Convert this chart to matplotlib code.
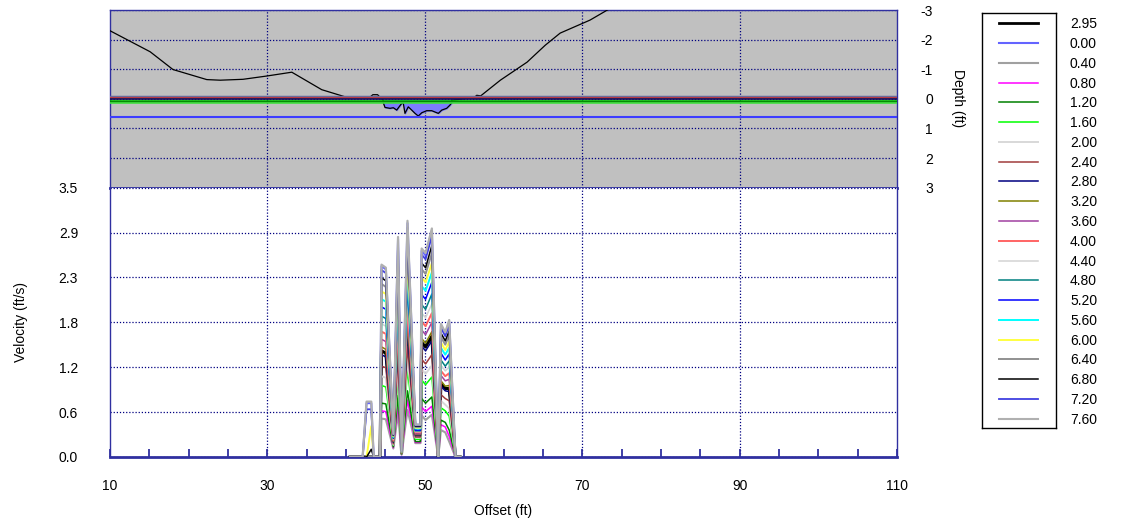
import matplotlib
matplotlib.use('Agg')
import matplotlib.pyplot as plt
import numpy as np

plt.rcParams['font.family'] = ['Liberation Sans', 'DejaVu Sans']
plt.rcParams['font.size'] = 10
plt.rcParams['axes.unicode_minus'] = False

# ---- cross-section (top panel) ----
bank_x = [10.0, 15.1, 18.0, 22.3, 24.0, 26.9, 29.9, 33.1, 36.9, 40.1, 43.0, 43.4, 44.0, 44.7]
bank_d = [-2.30, -1.59, -0.99, -0.65, -0.63, -0.66, -0.77, -0.90, -0.31, -0.05, -0.05, -0.14, -0.14, 0.05]
bank2_x = [53.4, 56.3, 56.6, 57.1, 59.6, 63.0, 65.3, 67.2, 71.0, 73.2, 75.0]
bank2_d = [0.05, -0.05, -0.12, -0.10, -0.63, -1.24, -1.81, -2.22, -2.66, -3.00, -3.30]
bed_x = [44.73, 44.94, 45.58, 46.0, 46.43, 47.07, 47.27, 47.48, 47.9, 48.34,
         48.76, 49.17, 49.61, 50.24, 50.88, 51.72, 52.15, 52.78, 53.2, 53.42]
bed_d = [0.13, 0.29, 0.32, 0.30, 0.38, 0.15, 0.15, 0.49, 0.27, 0.38,
         0.49, 0.58, 0.47, 0.40, 0.40, 0.49, 0.38, 0.32, 0.21, 0.13]
surf_d = [-0.07, -0.02, 0.02, 0.06, 0.10, 0.13]
surf_c = ['#6a6a9c', '#c83232', '#101060', '#00c000', '#008000', '#40e040']
surf_w = [2.5, 1.2, 1.2, 1.2, 1.2, 1.2]
blue_line_d = 0.6

# ---- velocity profiles (bottom panel) ----
offset = [40.5, 42.1, 42.6, 43.2, 43.5, 44.3, 44.5, 45.05, 46.0, 46.6, 47.05, 47.8,
          48.8, 49.45, 49.6, 50.1, 50.9, 51.7, 52.05, 52.6, 53.1, 53.9, 54.5]
v_295 = [0, 0, 0, 0, 0, 0, 1.38, 1.35, 0.19, 1.57, 0.05, 1.69, 0.29, 0.29, 1.49, 1.43, 1.57, 0, 0.95, 0.89, 0.89, 0, 0]
v_000 = [0, 0, 0.70, 0.70, 0, 0, 2.48, 2.44, 0.30, 2.83, 0.08, 3.04, 0.42, 0.42, 2.68, 2.62, 2.94, 0, 1.71, 1.60, 1.76, 0, 0]
v_040 = [0, 0, 0, 0, 0, 0, 0.50, 0.49, 0.11, 0.57, 0.03, 0.61, 0.18, 0.18, 0.54, 0.48, 0.55, 0, 0.35, 0.32, 0.20, 0, 0]
v_080 = [0, 0, 0, 0, 0, 0, 0.60, 0.59, 0.12, 0.69, 0.03, 0.74, 0.19, 0.19, 0.65, 0.59, 0.66, 0, 0.42, 0.39, 0.27, 0, 0]
v_120 = [0, 0, 0, 0, 0, 0, 0.70, 0.69, 0.13, 0.80, 0.04, 0.86, 0.20, 0.20, 0.76, 0.70, 0.78, 0, 0.48, 0.45, 0.35, 0, 0]
v_160 = [0, 0, 0, 0, 0, 0, 0.93, 0.91, 0.15, 1.06, 0.04, 1.14, 0.23, 0.23, 1.00, 0.94, 1.04, 0, 0.64, 0.60, 0.53, 0, 0]
v_200 = [0, 0, 0, 0, 0, 0, 1.05, 1.03, 0.16, 1.20, 0.05, 1.29, 0.25, 0.25, 1.14, 1.08, 1.19, 0, 0.73, 0.68, 0.63, 0, 0]
v_240 = [0, 0, 0, 0, 0, 0, 1.18, 1.16, 0.17, 1.34, 0.05, 1.44, 0.26, 0.26, 1.27, 1.21, 1.33, 0, 0.81, 0.76, 0.73, 0, 0]
v_280 = [0, 0, 0, 0, 0, 0, 1.33, 1.30, 0.19, 1.52, 0.05, 1.63, 0.28, 0.28, 1.44, 1.38, 1.51, 0, 0.92, 0.86, 0.85, 0, 0]
v_320 = [0, 0, 0, 0, 0, 0, 1.43, 1.40, 0.20, 1.63, 0.05, 1.75, 0.29, 0.29, 1.54, 1.48, 1.63, 0, 0.99, 0.92, 0.93, 0, 0]
v_360 = [0, 0, 0, 0, 0, 0, 1.53, 1.50, 0.21, 1.74, 0.06, 1.87, 0.30, 0.30, 1.65, 1.59, 1.75, 0, 1.06, 0.99, 1.01, 0, 0]
v_400 = [0, 0, 0, 0, 0, 0, 1.63, 1.60, 0.22, 1.86, 0.06, 2.00, 0.32, 0.32, 1.76, 1.70, 1.87, 0, 1.12, 1.05, 1.09, 0, 0]
v_440 = [0, 0, 0, 0, 0, 0, 1.73, 1.70, 0.23, 1.97, 0.06, 2.12, 0.33, 0.33, 1.87, 1.81, 1.99, 0, 1.19, 1.12, 1.17, 0, 0]
v_480 = [0, 0, 0, 0, 0, 0, 1.83, 1.80, 0.24, 2.09, 0.06, 2.24, 0.34, 0.34, 1.98, 1.92, 2.12, 0, 1.26, 1.18, 1.25, 0, 0]
v_520 = [0, 0, 0, 0, 0, 0, 1.95, 1.92, 0.25, 2.23, 0.07, 2.39, 0.35, 0.35, 2.11, 2.05, 2.27, 0, 1.35, 1.26, 1.34, 0, 0]
v_560 = [0, 0, 0, 0, 0, 0, 2.05, 2.02, 0.26, 2.35, 0.07, 2.52, 0.37, 0.37, 2.22, 2.16, 2.40, 0, 1.42, 1.33, 1.42, 0, 0]
v_600 = [0, 0, 0, 0.40, 0, 0, 2.15, 2.12, 0.27, 2.46, 0.07, 2.64, 0.38, 0.38, 2.33, 2.27, 2.52, 0, 1.49, 1.39, 1.50, 0, 0]
v_640 = [0, 0, 0, 0, 0, 0, 2.25, 2.21, 0.28, 2.57, 0.07, 2.76, 0.39, 0.39, 2.44, 2.38, 2.65, 0, 1.56, 1.46, 1.58, 0, 0]
v_680 = [0, 0, 0, 0.10, 0, 0, 2.33, 2.29, 0.28, 2.66, 0.08, 2.86, 0.40, 0.40, 2.52, 2.46, 2.75, 0, 1.61, 1.51, 1.64, 0, 0]
v_720 = [0, 0, 0.62, 0.62, 0, 0, 2.43, 2.39, 0.29, 2.77, 0.08, 2.98, 0.41, 0.41, 2.63, 2.57, 2.87, 0, 1.68, 1.57, 1.72, 0, 0]
v_760 = [0, 0, 0.72, 0.72, 0, 0, 2.50, 2.46, 0.30, 2.86, 0.08, 3.07, 0.42, 0.42, 2.71, 2.65, 2.97, 0, 1.73, 1.62, 1.78, 0, 0]

labels = ['2.95', '0.00', '0.40', '0.80', '1.20', '1.60', '2.00', '2.40', '2.80', '3.20', '3.60',
          '4.00', '4.40', '4.80', '5.20', '5.60', '6.00', '6.40', '6.80', '7.20', '7.60']
colors = ['#000000', '#6464ff', '#a0a0a0', '#ff00ff', '#008000', '#00ff00', '#d8d8d8', '#a03c3c',
          '#000080', '#808000', '#a040a0', '#ff6464', '#d3d3d3', '#008080', '#0000ff', '#00ffff',
          '#ffff40', '#909090', '#000000', '#4040e0', '#b0b0b0']
widths = [2.2, 1.5, 1.5, 1.1, 1.1, 1.1, 1.4, 1.1, 1.1, 1.1, 1.1, 1.4, 1.1, 1.1, 1.1, 1.4,
          1.4, 1.4, 1.1, 1.3, 1.6]
series = [v_295, v_000, v_040, v_080, v_120, v_160, v_200, v_240, v_280, v_320, v_360,
          v_400, v_440, v_480, v_520, v_560, v_600, v_640, v_680, v_720, v_760]

frame_c = '#3030a0'
grid_kw = dict(color='#000080', linestyle=(0, (1, 1.5)), linewidth=0.9)

fig = plt.figure(figsize=(11.21, 5.27), dpi=100)
W, H = 1121, 527

# top panel
ax_t = fig.add_axes([110 / W, 1 - 187.7 / H, 787 / W, 177.7 / H])
ax_t.set_facecolor('#c0c0c0')
ax_t.set_xlim(10, 110)
ax_t.set_ylim(3, -3)
ax_t.set_xticks([30, 50, 70, 90])
ax_t.set_yticks([-3, -2, -1, 0, 1, 2, 3])
ax_t.grid(True, **grid_kw)
ax_t.tick_params(axis='x', length=0, labelbottom=False)
ax_t.tick_params(axis='y', length=0, left=False, labelleft=False, labelright=True, pad=26)
for t in ax_t.get_yticklabels():
    t.set_horizontalalignment('right')
fig.text(958 / W, 1 - 98 / H, 'Depth (ft)', rotation=-90, ha='center', va='center', fontsize=10)
ax_t.fill_between(bed_x, 0.04, bed_d, color='#7c7cff', zorder=2)
ax_t.plot(bed_x, bed_d, color='black', lw=0.9, zorder=3)
ax_t.plot(bank_x, bank_d, color='black', lw=0.9, zorder=3)
ax_t.plot(bank2_x, bank2_d, color='black', lw=0.9, zorder=3)
for d, c, w in zip(surf_d, surf_c, surf_w):
    ax_t.axhline(d, color=c, lw=w, zorder=4)
ax_t.axhline(blue_line_d, color='#3c3cff', lw=1.5, zorder=4)
for s in ax_t.spines.values():
    s.set_color(frame_c)
    s.set_linewidth(1)
ax_t.spines['bottom'].set_linewidth(2)

# bottom panel
ax = fig.add_axes([110 / W, 1 - 457 / H, 787 / W, 269.3 / H])
ax.set_xlim(10, 110)
ax.set_ylim(0, 3.5)
for vals, c, w in zip(series, colors, widths):
    ax.plot(offset, vals, color=c, lw=w, zorder=3)
yt = np.linspace(0, 3.5, 7)
ax.set_yticks(yt)
ax.set_yticklabels(['%.1f' % v for v in yt])
ax.set_xticks([10, 30, 50, 70, 90, 110])
ax.set_xticks(np.arange(15, 110, 5), minor=True)
ax.grid(True, axis='y', **grid_kw)
for gx in [30, 50, 70, 90]:
    ax.axvline(gx, zorder=1, **grid_kw)
ax.tick_params(axis='y', length=0, pad=23)
ax.tick_params(axis='x', which='both', direction='in', length=6, width=1.3,
               color=frame_c, pad=16)
ax.set_xlabel('Offset (ft)', labelpad=8)
ax.set_ylabel('Velocity (ft/s)', labelpad=22)
for s in ax.spines.values():
    s.set_color(frame_c)
    s.set_linewidth(1)
ax.spines['bottom'].set_linewidth(2)
ax.spines['top'].set_visible(False)

# legend
ax_l = fig.add_axes([981.7 / W, 1 - 428.3 / H, 74 / W, 415 / H])
ax_l.set_xlim(981.7, 1055.7)
ax_l.set_ylim(428.3, 13.3)
ax_l.set_xticks([])
ax_l.set_yticks([])
for s in ax_l.spines.values():
    s.set_color('black')
    s.set_linewidth(1)
for i, (lab, c, w) in enumerate(zip(labels, colors, widths)):
    y = 23.3 + i * 19.77
    ax_l.plot([999.3, 1038.3], [y, y], color=c, lw=min(w, 1.5) if i else 2.0)
    ax_l.text(1070, y + 1, lab, va='center', ha='left', fontsize=10, clip_on=False)

fig.savefig('out.png', dpi=100)
